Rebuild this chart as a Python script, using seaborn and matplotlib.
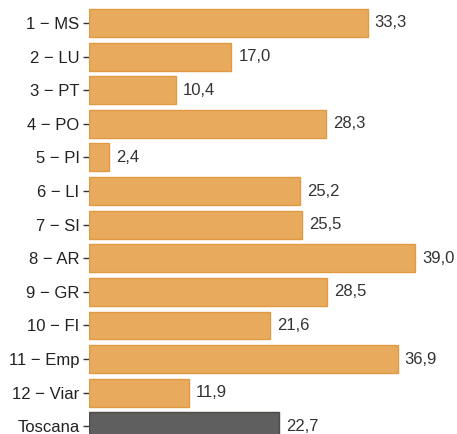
import pandas as pd
import seaborn as sns
import matplotlib.pyplot as plt

areas = ["1 \u2212 MS", "2 \u2212 LU", "3 \u2212 PT", "4 \u2212 PO", "5 \u2212 PI", "6 \u2212 LI",
         "7 \u2212 SI", "8 \u2212 AR", "9 \u2212 GR", "10 \u2212 FI", "11 \u2212 Emp",
         "12 \u2212 Viar", "Toscana"]
values = [33.3, 17.0, 10.4, 28.3, 2.4, 25.2, 25.5, 39.0, 28.5, 21.6, 36.9, 11.9, 22.7]
groups = ["zona"] * 12 + ["regione"]

df = pd.DataFrame({"area": areas, "value": values, "group": groups})

sns.set_style("white")
plt.rcParams["font.family"] = ["Liberation Sans", "DejaVu Sans"]

fig = plt.figure(figsize=(4.57, 4.34), dpi=100)
ax = fig.add_axes([89 / 457, 0, 368 / 457, 1])

sns.barplot(data=df, y="area", x="value", hue="group", dodge=False,
            palette={"zona": "#E8AB5E", "regione": "#5F5F5F"}, saturation=1,
            width=0.83, legend=False, ax=ax)

edge = {"zona": "#E19A42", "regione": "#4E4A45"}
for patch, g in zip(ax.patches, groups):
    patch.set_edgecolor(edge[g])
    patch.set_linewidth(1)

for i, v in enumerate(values):
    ax.text(v + 0.85, i, f"{v:.1f}".replace(".", ","), va="center", ha="left",
            fontsize=12, color="#333333")

ax.set_xlim(0, 44.0)
ax.set_ylim(12.23, -0.684)
ax.set_xlabel("")
ax.set_ylabel("")
ax.set_xticks([])
for s in ax.spines.values():
    s.set_visible(False)
ax.tick_params(axis="y", length=4.3, width=1, color="#333333", labelsize=12,
               labelcolor="#222222", pad=2.5, left=True)

fig.savefig("out.png", dpi=100)
